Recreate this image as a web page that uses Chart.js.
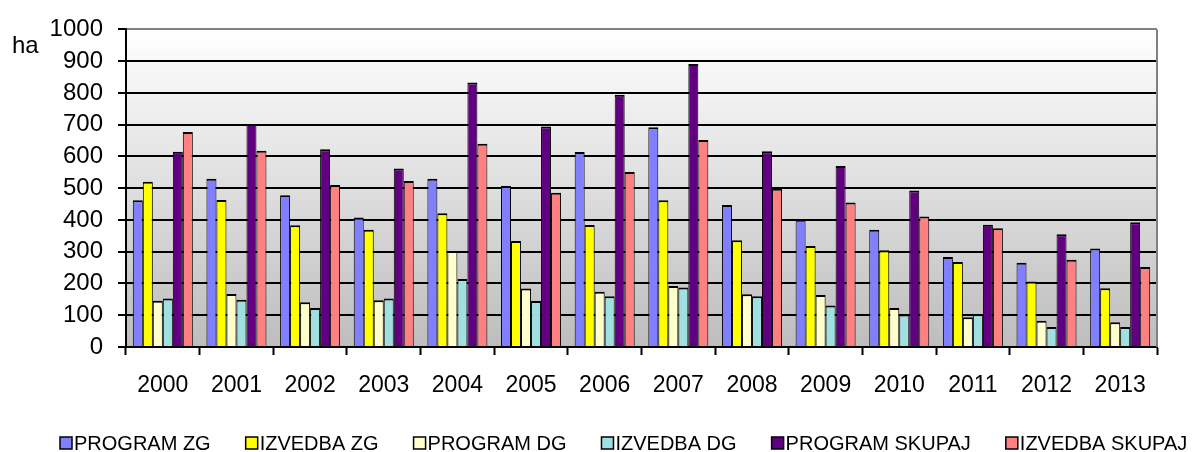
<!DOCTYPE html>
<html>
<head>
<meta charset="utf-8">
<script src="https://cdn.jsdelivr.net/npm/chart.js@4"></script>
<style>
  body { margin: 0; background: #fff; }
  #wrap { width: 1199px; height: 452px; position: relative; }
</style>
</head>
<body>
<div id="wrap"><canvas id="areaChart"></canvas></div>
<script>
// Program / izvedba po godinama (ha)

const years = ['2000', '2001', '2002', '2003', '2004', '2005', '2006', '2007', '2008', '2009', '2010', '2011', '2012', '2013'];

const programZG   = [462, 530, 478, 408, 530, 507, 614, 692, 447, 401, 369, 283, 265, 310];
const izvedbaZG   = [520, 463, 383, 369, 421, 334, 384, 462, 336, 318, 305, 268, 206, 185];
const programDG   = [146, 167, 141, 147, 302, 184, 174, 192, 166, 164, 123, 94, 83, 78];
const izvedbaDG   = [153, 149, 123, 153, 214, 145, 160, 187, 160, 131, 102, 103, 63, 63];
const programSK   = [615, 702, 623, 562, 833, 694, 794, 891, 616, 570, 493, 385, 355, 393];
const izvedbaSK   = [677, 618, 510, 523, 640, 486, 551, 652, 498, 455, 411, 374, 275, 252];

const yTicks = [0, 100, 200, 300, 400, 500, 600, 700, 800, 900, 1000];
const unitLabel = 'ha';

const FONT = "'Liberation Sans', Arial, sans-serif";

function bar(label, data, color) {
    return {
        label: label,
        data: data,
        backgroundColor: color,
        borderColor: '#000',
        // neighbouring bars share one 2px outline
        borderWidth: { top: 2, left: 1, right: 1, bottom: 0 },
        borderSkipped: 'start',
        categoryPercentage: 0.815,
        barPercentage: 1.0
    };
}

// gradient behind the plot + gray right border
const plotBackground = {
    id: 'plotBackground',
    beforeDraw(chart) {
        const { ctx, chartArea: a } = chart;
        ctx.save();
        ctx.fillStyle = '#fff';
        ctx.fillRect(0, 0, chart.width, chart.height);
        const g = ctx.createLinearGradient(0, a.top, 0, a.bottom);
        g.addColorStop(0, '#ffffff');
        g.addColorStop(1, '#bdbdbd');
        ctx.fillStyle = g;
        ctx.fillRect(a.left, a.top, a.right - a.left, a.bottom - a.top);
        ctx.restore();
    },
    afterDatasetsDraw(chart) {
        const { ctx, chartArea: a } = chart;
        ctx.save();
        ctx.strokeStyle = '#808080';
        ctx.lineWidth = 2;
        ctx.beginPath();
        ctx.moveTo(a.right, a.top);
        ctx.lineTo(a.right, a.bottom);
        ctx.stroke();
        ctx.restore();
    }
};

// unit label, cut-off year labels and the legend row
const extras = {
    id: 'extras',
    afterDraw(chart) {
        const ctx = chart.ctx;
        ctx.save();
        // the year labels are clipped at the bottom in the original
        ctx.fillStyle = '#fff';
        ctx.fillRect(0, 392, chart.width, 10);

        ctx.fillStyle = '#000';
        ctx.font = '24px ' + FONT;
        ctx.textAlign = 'left';
        ctx.textBaseline = 'alphabetic';
        ctx.fillText(unitLabel, 12, 53);

        ctx.font = '20px ' + FONT;
        ctx.textBaseline = 'middle';
        let x = 60;
        const y = 443;
        chart.data.datasets.forEach(ds => {
            ctx.fillStyle = ds.backgroundColor;
            ctx.fillRect(x, y - 6, 12, 12);
            ctx.strokeStyle = '#000';
            ctx.lineWidth = 1.5;
            ctx.strokeRect(x, y - 6, 12, 12);
            ctx.fillStyle = '#000';
            ctx.fillText(ds.label, x + 14, y + 1);
            x += 14 + ctx.measureText(ds.label).width + 35;
        });
        ctx.restore();
    }
};

new Chart(document.getElementById('areaChart'), {
    type: 'bar',
    data: {
        labels: years,
        datasets: [
            bar('PROGRAM ZG', programZG, '#8080FF'),
            bar('IZVEDBA ZG', izvedbaZG, '#FFFF00'),
            bar('PROGRAM DG', programDG, '#FFFFCC'),
            bar('IZVEDBA DG', izvedbaDG, '#A0E0E0'),
            bar('PROGRAM SKUPAJ', programSK, '#600080'),
            bar('IZVEDBA SKUPAJ', izvedbaSK, '#FF8080')
        ]
    },
    plugins: [plotBackground, extras],
    options: {
        responsive: true,
        maintainAspectRatio: false,
        animation: false,
        layout: { padding: { top: 25, right: 42, bottom: 0, left: 0 } },
        plugins: {
            legend: { display: false },
            tooltip: { enabled: false }
        },
        scales: {
            x: {
                offset: true,
                grid: {
                    offset: true,
                    drawOnChartArea: false,
                    drawTicks: true,
                    tickLength: 8,
                    tickColor: '#000',
                    tickWidth: 2
                },
                border: { display: true, color: '#000', width: 2 },
                ticks: {
                    color: '#000',
                    font: { family: FONT, size: 23 },
                    padding: 17,
                    maxRotation: 0,
                    autoSkip: false
                },
                afterFit(scale) { scale.height = 105; }
            },
            y: {
                min: 0,
                max: 1000,
                afterBuildTicks(scale) {
                    scale.ticks = yTicks.map(v => ({ value: v }));
                },
                grid: {
                    color: ctx => (ctx.tick && ctx.tick.value === 1000 ? '#808080' : '#000'),
                    lineWidth: 2,
                    tickLength: 8,
                    tickColor: '#000',
                    tickWidth: 2
                },
                border: { display: true, color: '#000', width: 2 },
                ticks: {
                    color: '#000',
                    font: { family: FONT, size: 24 },
                    padding: 15,
                    autoSkip: false,
                    callback: v => String(v)
                },
                afterFit(scale) { scale.width = 126; }
            }
        }
    }
});
</script>
</body>
</html>
